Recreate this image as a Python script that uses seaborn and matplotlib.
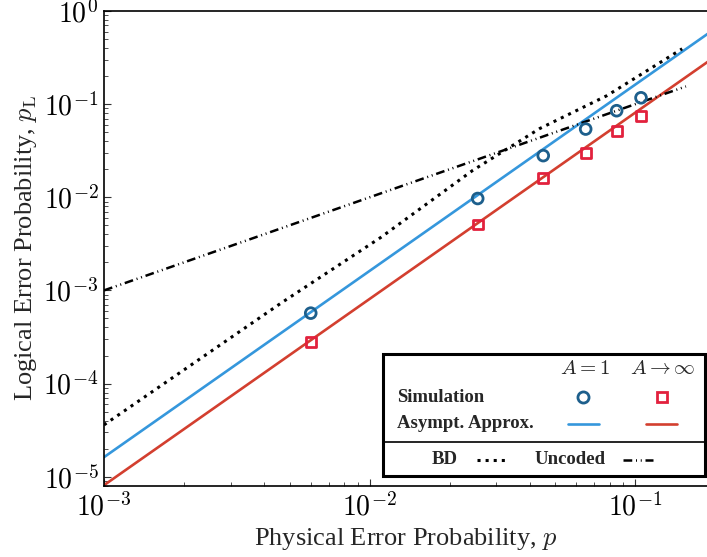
import numpy as np
import pandas as pd
import seaborn as sns
import matplotlib
matplotlib.use("Agg")
import matplotlib.pyplot as plt
from matplotlib.patches import Rectangle
from matplotlib.lines import Line2D

# ---- data ----
p_sim = [0.006, 0.0255, 0.045, 0.065, 0.085, 0.105]
pl_sim_A1 = [5.7e-4, 9.7e-3, 2.8e-2, 5.4e-2, 8.5e-2, 1.17e-1]
pl_sim_Ainf = [2.8e-4, 5.1e-3, 1.6e-2, 3.0e-2, 5.1e-2, 7.5e-2]

p_asym = [1e-3, 0.2]
pl_asym_A1 = [1.62e-5, 0.65]
pl_asym_Ainf = [8.1e-6, 0.325]

p_bd = [1e-3, 4.7e-3, 0.011, 0.0244, 0.0436, 0.078, 0.15]
pl_bd = [3.6e-5, 7.5e-4, 3.7e-3, 0.0194, 0.0546, 0.123, 0.393]

p_unc = [1e-3, 0.155]
pl_unc = [1e-3, 0.155]

x_ticks = [1e-3, 1e-2, 1e-1]
y_ticks = [1e-5, 1e-4, 1e-3, 1e-2, 1e-1, 1e0]

col_line_blue = "#3597dc"
col_circ = "#1d5f8c"
col_line_red = "#d33f2f"
col_sq = "#e2213d"

sns.set_theme(style="ticks")
plt.rcParams["font.family"] = ["Liberation Serif", "DejaVu Serif"]
plt.rcParams["mathtext.fontset"] = "cm"

fig = plt.figure(figsize=(7.07, 5.57), dpi=100)
ax = fig.add_axes([104/707, (557-486)/557, (707-104)/707, (486-11)/557])
ax.set_xscale("log")
ax.set_yscale("log")

sns.lineplot(x=p_asym, y=pl_asym_A1, ax=ax, color=col_line_blue, lw=1.9, sort=False, estimator=None)
sns.lineplot(x=p_asym, y=pl_asym_Ainf, ax=ax, color=col_line_red, lw=1.9, sort=False, estimator=None)
sns.lineplot(x=p_bd, y=pl_bd, ax=ax, color="black", lw=2.2, linestyle=":", sort=False, estimator=None)
sns.lineplot(x=p_unc, y=pl_unc, ax=ax, color="black", lw=1.8,
             linestyle=(0, (3.5, 1.5, 0.4, 1.5, 0.4, 1.5)), sort=False, estimator=None)
sns.scatterplot(x=p_sim, y=pl_sim_A1, ax=ax, marker="o", s=60, facecolor="none",
                edgecolor=col_circ, linewidth=2, zorder=5)
sns.scatterplot(x=p_sim, y=pl_sim_Ainf, ax=ax, marker="s", s=50, facecolor="none",
                edgecolor=col_sq, linewidth=2, zorder=5)

ax.set_xlim(1e-3, 10 ** (-1 + (707 - 635.3) / 266))
ax.set_ylim(10 ** -5.1, 1)
ax.set_xticks(x_ticks)
ax.set_yticks(y_ticks)
ax.set_xticklabels([r"$10^{-3}$", r"$10^{-2}$", r"$10^{-1}$"])
ax.set_yticklabels([r"$10^{-5}$", r"$10^{-4}$", r"$10^{-3}$", r"$10^{-2}$", r"$10^{-1}$", r"$10^{0}$"])
ax.tick_params(which="both", direction="in", labelsize=20, colors="#333333", labelcolor="black")
ax.tick_params(which="major", length=5, width=0.8)
ax.tick_params(which="minor", length=3, width=0.6)
ax.tick_params(axis="x", pad=5)
ax.tick_params(axis="y", pad=4)
for s in ["left", "bottom", "top"]:
    ax.spines[s].set_color("black")
    ax.spines[s].set_linewidth(1.2)
ax.spines["right"].set_visible(False)

ax.set_xlabel(r"Physical Error Probability, $p$", fontsize=19, labelpad=3)
ax.set_ylabel(r"Logical Error Probability, $p_{\mathrm{L}}$", fontsize=19, labelpad=3)

# ---- custom table legend ----
T = ax.transAxes
def fx(px):
    return (px - 104) / 603
def fy(py):
    return (486 - py) / 475

box = Rectangle((fx(383), fy(476)), fx(705) - fx(383), fy(354) - fy(476), transform=T,
                facecolor="white", edgecolor="black", lw=2.2, zorder=10, clip_on=False)
ax.add_patch(box)
ax.add_line(Line2D([fx(383), fx(705)], [fy(441.7)] * 2, transform=T, color="black", lw=1.2, zorder=11))

ax.text(fx(585), fy(370), r"$A = 1$", transform=T, ha="center", va="center", fontsize=15, zorder=12)
ax.text(fx(663), fy(370), r"$A \rightarrow \infty$", transform=T, ha="center", va="center", fontsize=15, zorder=12)
ax.text(fx(397), fy(397), "Simulation", transform=T, ha="left", va="center", fontsize=13.5,
        fontweight="bold", zorder=12)
ax.text(fx(397), fy(424), "Asympt. Approx.", transform=T, ha="left", va="center", fontsize=13.5,
        fontweight="bold", zorder=12)
ax.plot([fx(583)], [fy(397)], transform=T, marker="o", ms=8, mfc="none", mec=col_circ, mew=2, zorder=12, ls="none")
ax.plot([fx(662)], [fy(397)], transform=T, marker="s", ms=7.5, mfc="none", mec=col_sq, mew=2, zorder=12, ls="none")
ax.plot([fx(568), fx(599)], [fy(424)] * 2, transform=T, color=col_line_blue, lw=1.9, zorder=12)
ax.plot([fx(646), fx(677)], [fy(424)] * 2, transform=T, color=col_line_red, lw=1.9, zorder=12)
ax.text(fx(445), fy(460), "BD", transform=T, ha="center", va="center", fontsize=13.5, fontweight="bold", zorder=12)
ax.plot([fx(477), fx(505)], [fy(460)] * 2, transform=T, color="black", lw=2.2, ls=":", zorder=12)
ax.text(fx(570), fy(460), "Uncoded", transform=T, ha="center", va="center", fontsize=13.5, fontweight="bold", zorder=12)
ax.plot([fx(623), fx(653)], [fy(460)] * 2, transform=T, color="black", lw=1.8,
        ls=(0, (3.5, 1.5, 0.4, 1.5, 0.4, 1.5)), zorder=12)

fig.savefig("out.png", dpi=100)
